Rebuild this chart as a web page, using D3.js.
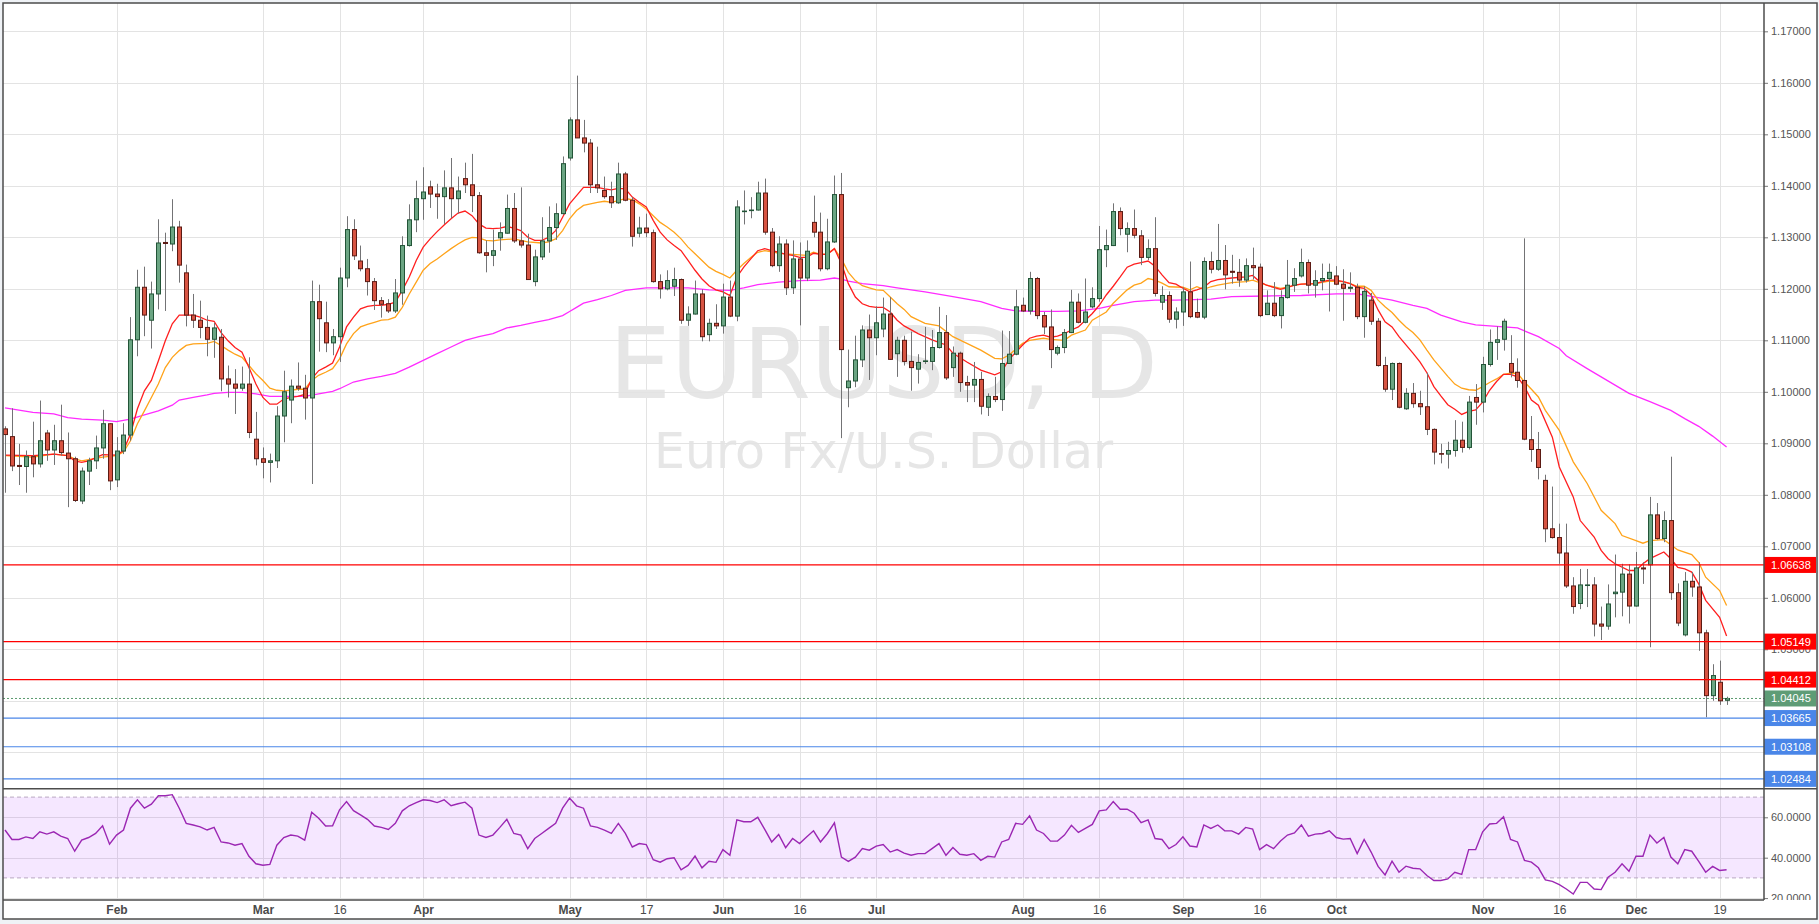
<!DOCTYPE html>
<html><head><meta charset="utf-8">
<script src="https://cdn.jsdelivr.net/npm/d3@7"></script>
<style>
html,body{margin:0;padding:0;background:#eff2f6;overflow:hidden;}
svg{display:block;font-family:"Liberation Sans",Arial,sans-serif;}
</style></head>
<body><svg id="chart" width="1819" height="924"></svg>
<script>
// ---------- DATA (EUR/USD daily) ----------
const firstDay = "2016-01-08", lastDay = "2016-12-20";

const open = [1.0928,1.0913,1.0857,1.0855,1.0874,1.0860,1.0920,1.0887,1.0905,1.0881,
1.0870,1.0788,1.0846,1.0866,1.0891,1.0938,1.0829,1.0885,1.0916,1.1101,
1.1203,1.1139,1.1190,1.1290,1.1287,1.1320,1.1231,1.1149,1.1139,1.1125,
1.1102,1.1106,1.1025,1.1015,1.1007,1.1015,1.0908,1.0870,1.0863,1.0866,
1.0953,1.0984,1.1011,1.1007,1.0988,1.1175,1.1134,1.1095,1.1107,1.1221,
1.1315,1.1254,1.1239,1.1214,1.1177,1.1171,1.1157,1.1192,1.1284,1.1334,
1.1375,1.1398,1.1384,1.1379,1.1396,1.1375,1.1414,1.1402,1.1381,1.1270,
1.1265,1.1299,1.1308,1.1356,1.1293,1.1285,1.1214,1.1262,1.1293,1.1319,
1.1346,1.1454,1.1528,1.1493,1.1483,1.1402,1.1391,1.1379,1.1367,1.1423,
1.1372,1.1308,1.1318,1.1309,1.1214,1.1200,1.1205,1.1218,1.1139,1.1151,
1.1190,1.1111,1.1133,1.1128,1.1184,1.1147,1.1350,1.1352,1.1353,1.1386,
1.1310,1.1245,1.1287,1.1202,1.1258,1.1221,1.1329,1.1310,1.1239,1.1291,
1.1383,1.1008,1.1021,1.1062,1.1120,1.1105,1.1122,1.1151,1.1074,1.1100,
1.1059,1.1044,1.1059,1.1059,1.1086,1.1115,1.1047,1.1075,1.1018,1.1013,
1.1024,1.0970,1.0991,1.0985,1.1055,1.1073,1.1168,1.1157,1.1220,1.1148,
1.1126,1.1075,1.1086,1.1115,1.1174,1.1135,1.1165,1.1181,1.1276,1.1284,
1.1350,1.1306,1.1317,1.1303,1.1261,1.1278,1.1174,1.1187,1.1141,1.1155,
1.1194,1.1154,1.1145,1.1253,1.1238,1.1255,1.1234,1.1232,1.1217,1.1245,
1.1242,1.1150,1.1172,1.1148,1.1183,1.1207,1.1225,1.1251,1.1207,1.1216,
1.1220,1.1225,1.1209,1.1201,1.1203,1.1146,1.1178,1.1137,1.1051,1.1005,
1.1055,1.0967,1.0997,1.0977,1.0971,1.0927,1.0880,1.0879,1.0886,1.0906,
1.0892,1.0989,1.0980,1.1053,1.1096,1.1102,1.1055,1.1038,1.1022,1.0907,
1.0888,1.0828,1.0734,1.0717,1.0687,1.0623,1.0589,1.0624,1.0625,1.0549,
1.0545,1.0608,1.0611,1.0646,1.0584,1.0658,1.0664,1.0761,1.0715,1.0750,
1.0610,1.0528,1.0632,1.0621,1.0532,1.0410,1.0436,1.0401];

const high = [1.0933,1.0968,1.0899,1.0886,1.0942,1.0983,1.0926,1.0936,1.0975,1.0921,
1.0874,1.0853,1.0872,1.0915,1.0965,1.0939,1.0912,1.0939,1.1145,1.1237,
1.1243,1.1214,1.1335,1.1309,1.1374,1.1332,1.1247,1.1190,1.1177,1.1148,
1.1134,1.1122,1.1051,1.1044,1.1049,1.1067,1.0961,1.0892,1.0880,1.0972,
1.1041,1.1024,1.1057,1.1033,1.1216,1.1208,1.1175,1.1122,1.1241,1.1341,
1.1335,1.1284,1.1258,1.1221,1.1184,1.1180,1.1219,1.1302,1.1364,1.1410,
1.1436,1.1410,1.1404,1.1430,1.1454,1.1418,1.1445,1.1462,1.1388,1.1294,
1.1315,1.1329,1.1383,1.1386,1.1397,1.1307,1.1276,1.1339,1.1360,1.1366,
1.1457,1.1533,1.1614,1.1528,1.1491,1.1476,1.1418,1.1408,1.1445,1.1427,
1.1378,1.1340,1.1346,1.1315,1.1228,1.1236,1.1241,1.1220,1.1166,1.1216,
1.1199,1.1142,1.1170,1.1210,1.1216,1.1372,1.1391,1.1378,1.1408,1.1414,
1.1318,1.1302,1.1296,1.1294,1.1290,1.1294,1.1381,1.1348,1.1336,1.1420,
1.1425,1.1082,1.1109,1.1129,1.1150,1.1166,1.1183,1.1184,1.1107,1.1109,
1.1117,1.1073,1.1126,1.1120,1.1165,1.1149,1.1088,1.1078,1.1031,1.1058,
1.1039,1.0997,1.1029,1.1119,1.1118,1.1198,1.1183,1.1233,1.1223,1.1155,
1.1160,1.1090,1.1122,1.1198,1.1191,1.1220,1.1203,1.1322,1.1315,1.1366,
1.1358,1.1329,1.1354,1.1314,1.1296,1.1339,1.1205,1.1195,1.1164,1.1203,
1.1253,1.1181,1.1261,1.1272,1.1326,1.1285,1.1266,1.1258,1.1259,1.1280,
1.1249,1.1197,1.1213,1.1197,1.1256,1.1240,1.1278,1.1257,1.1236,1.1249,
1.1249,1.1244,1.1238,1.1232,1.1210,1.1205,1.1192,1.1143,1.1068,1.1057,
1.1057,1.1007,1.1017,1.1002,1.1037,1.0929,1.0899,1.0903,1.0945,1.0942,
1.0992,1.1015,1.1068,1.1121,1.1127,1.1142,1.1110,1.1065,1.1298,1.0953,
1.0922,1.0839,1.0816,1.0744,1.0744,1.0640,1.0656,1.0656,1.0640,1.0583,
1.0626,1.0684,1.0666,1.0665,1.0689,1.0669,1.0796,1.0784,1.0768,1.0874,
1.0628,1.0650,1.0650,1.0669,1.0538,1.0471,1.0478,1.0408];

const low = [1.0804,1.0846,1.0819,1.0804,1.0834,1.0853,1.0866,1.0858,1.0876,1.0776,
1.0786,1.0782,1.0819,1.0850,1.0870,1.0809,1.0815,1.0879,1.0905,1.1069,
1.1108,1.1084,1.1160,1.1157,1.1273,1.1212,1.1127,1.1124,1.1104,1.1069,
1.1066,1.1001,1.0989,1.0957,1.1002,1.0910,1.0857,1.0832,1.0824,1.0852,
1.0902,1.0939,1.1002,1.0946,1.0821,1.1078,1.1077,1.1071,1.1058,1.1203,
1.1256,1.1234,1.1187,1.1159,1.1144,1.1153,1.1153,1.1169,1.1282,1.1310,
1.1334,1.1357,1.1336,1.1326,1.1337,1.1346,1.1386,1.1349,1.1268,1.1232,
1.1244,1.1274,1.1307,1.1289,1.1280,1.1218,1.1205,1.1256,1.1270,1.1295,
1.1344,1.1449,1.1493,1.1465,1.1386,1.1386,1.1375,1.1357,1.1365,1.1370,
1.1282,1.1300,1.1300,1.1212,1.1181,1.1197,1.1186,1.1132,1.1128,1.1150,
1.1098,1.1098,1.1122,1.1113,1.1145,1.1137,1.1325,1.1337,1.1352,1.1305,
1.1242,1.1233,1.1188,1.1190,1.1129,1.1215,1.1300,1.1234,1.1236,1.1289,
1.0910,1.0970,1.1009,1.1048,1.1023,1.1071,1.1106,1.1062,1.1029,1.1051,
1.1002,1.1016,1.1054,1.1042,1.1084,1.1023,1.1029,1.1000,1.0980,1.0980,
1.0956,1.0953,1.0980,1.0963,1.1054,1.1071,1.1155,1.1150,1.1141,1.1112,
1.1046,1.1071,1.1075,1.1114,1.1133,1.1133,1.1162,1.1175,1.1242,1.1283,
1.1304,1.1271,1.1298,1.1246,1.1256,1.1185,1.1159,1.1134,1.1123,1.1128,
1.1143,1.1143,1.1141,1.1230,1.1235,1.1199,1.1210,1.1204,1.1212,1.1218,
1.1145,1.1149,1.1145,1.1123,1.1181,1.1194,1.1222,1.1191,1.1183,1.1197,
1.1156,1.1207,1.1138,1.1194,1.1141,1.1105,1.1130,1.1049,1.1000,1.0984,
1.0968,1.0965,1.0969,1.0955,1.0916,1.0859,1.0861,1.0851,1.0874,1.0882,
1.0888,1.0936,1.0960,1.1049,1.1062,1.1080,1.1028,1.1008,1.0906,1.0864,
1.0830,1.0708,1.0715,1.0666,1.0619,1.0569,1.0578,1.0582,1.0525,1.0518,
1.0538,1.0562,1.0564,1.0550,1.0583,1.0627,1.0504,1.0713,1.0708,1.0596,
1.0545,1.0525,1.0602,1.0497,1.0368,1.0400,1.0392,1.0392];

const close = [1.0917,1.0856,1.0855,1.0874,1.0860,1.0905,1.0887,1.0905,1.0882,1.0870,
1.0789,1.0846,1.0866,1.0891,1.0938,1.0827,1.0885,1.0916,1.1101,1.1203,
1.1149,1.1190,1.1289,1.1288,1.1320,1.1246,1.1149,1.1139,1.1125,1.1102,
1.1124,1.1025,1.1015,1.1007,1.1015,1.0921,1.0870,1.0863,1.0866,1.0953,
1.1000,1.1011,1.1007,1.0988,1.1175,1.1142,1.1095,1.1107,1.1221,1.1315,
1.1264,1.1239,1.1214,1.1177,1.1170,1.1157,1.1192,1.1284,1.1334,1.1375,
1.1388,1.1384,1.1379,1.1396,1.1375,1.1390,1.1402,1.1381,1.1270,1.1265,
1.1274,1.1309,1.1356,1.1293,1.1285,1.1218,1.1262,1.1293,1.1319,1.1346,
1.1443,1.1528,1.1493,1.1483,1.1402,1.1396,1.1379,1.1367,1.1423,1.1372,
1.1302,1.1318,1.1309,1.1214,1.1200,1.1216,1.1218,1.1139,1.1151,1.1190,
1.1107,1.1133,1.1128,1.1184,1.1147,1.1359,1.1351,1.1353,1.1386,1.1310,
1.1245,1.1287,1.1202,1.1258,1.1221,1.1273,1.1310,1.1239,1.1291,1.1383,
1.1082,1.1021,1.1062,1.1120,1.1105,1.1134,1.1151,1.1063,1.1100,1.1059,
1.1047,1.1057,1.1060,1.1086,1.1115,1.1027,1.1075,1.1018,1.1013,1.1024,
1.0972,1.0991,1.0985,1.1055,1.1073,1.1165,1.1157,1.1220,1.1148,1.1126,
1.1082,1.1086,1.1115,1.1174,1.1135,1.1155,1.1181,1.1276,1.1284,1.1350,
1.1317,1.1317,1.1304,1.1261,1.1278,1.1191,1.1187,1.1141,1.1155,1.1194,
1.1146,1.1145,1.1253,1.1238,1.1255,1.1227,1.1232,1.1217,1.1245,1.1241,
1.1148,1.1172,1.1148,1.1183,1.1207,1.1220,1.1251,1.1207,1.1216,1.1220,
1.1232,1.1209,1.1201,1.1203,1.1146,1.1195,1.1137,1.1051,1.1005,1.1055,
1.0970,1.0997,1.0977,1.0971,1.0927,1.0883,1.0879,1.0886,1.0906,1.0892,
1.0980,1.0980,1.1053,1.1096,1.1101,1.1137,1.1038,1.1022,1.0908,1.0888,
1.0853,1.0734,1.0717,1.0687,1.0623,1.0583,1.0625,1.0625,1.0549,1.0545,
1.0588,1.0611,1.0646,1.0584,1.0658,1.0656,1.0761,1.0715,1.0750,1.0610,
1.0551,1.0632,1.0621,1.0532,1.0410,1.0449,1.0400,1.04045];

// moving averages: [bar index, value]
const maFast = [[0,1.0877],[4,1.0876],[7,1.0879],[9,1.0876],[10,1.0866],[11,1.0863],[12,1.0866],[14,1.0878],[16,1.0877],[17,1.0886],[18,1.0918],[19,1.0967],[20,1.1002],[21,1.1022],[22,1.1060],[23,1.1099],[24,1.1132],[25,1.1149],[27,1.1149],[28,1.1145],[29,1.1139],[30,1.1137],[31,1.1115],[32,1.1099],[33,1.1086],[34,1.1077],[35,1.1047],[36,1.1015],[37,1.0989],[38,1.0976],[39,1.0976],[40,1.0986],[41,1.0989],[42,1.0991],[43,1.0995],[44,1.1025],[45,1.1041],[46,1.1048],[47,1.1056],[48,1.1087],[49,1.1126],[50,1.1145],[51,1.1161],[52,1.1166],[53,1.1168],[54,1.1168],[55,1.1170],[56,1.1174],[57,1.1197],[58,1.1223],[59,1.1255],[60,1.1281],[61,1.1297],[62,1.1311],[63,1.1324],[64,1.1336],[65,1.1347],[66,1.1351],[67,1.1342],[68,1.1326],[69,1.1318],[70,1.1317],[71,1.1318],[72,1.1321],[73,1.1318],[74,1.1313],[75,1.1300],[76,1.1294],[77,1.1294],[78,1.1300],[79,1.1313],[80,1.1339],[81,1.1365],[82,1.1381],[83,1.1397],[84,1.1397],[85,1.1397],[86,1.1394],[87,1.1392],[88,1.1395],[89,1.1394],[90,1.1378],[91,1.1368],[92,1.1359],[93,1.1333],[94,1.1310],[95,1.1295],[96,1.1284],[97,1.1274],[98,1.1255],[99,1.1236],[100,1.1219],[101,1.1206],[102,1.1198],[103,1.1194],[104,1.1187],[105,1.1223],[106,1.1242],[107,1.1258],[108,1.1274],[109,1.1278],[110,1.1274],[111,1.1271],[112,1.1267],[113,1.1265],[114,1.1261],[115,1.1261],[116,1.1269],[117,1.1267],[118,1.1267],[119,1.1278],[120,1.1249],[121,1.1210],[122,1.1184],[123,1.1171],[124,1.1166],[125,1.1164],[126,1.1164],[127,1.1155],[128,1.1139],[129,1.1128],[131,1.1113],[133,1.1101],[135,1.1091],[136,1.1075],[138,1.1058],[140,1.1042],[142,1.1033],[143,1.1039],[144,1.1062],[146,1.1091],[147,1.1104],[148,1.1108],[149,1.1110],[150,1.1106],[151,1.1108],[152,1.1113],[153,1.1120],[154,1.1126],[155,1.1139],[156,1.1152],[157,1.1168],[158,1.1188],[159,1.1205],[160,1.1223],[161,1.1242],[162,1.1248],[163,1.1251],[164,1.1254],[165,1.1244],[166,1.1227],[167,1.1212],[168,1.1209],[169,1.1201],[170,1.1194],[171,1.1198],[172,1.1203],[173,1.1214],[174,1.1218],[176,1.1221],[178,1.1223],[179,1.1226],[180,1.1214],[181,1.1207],[182,1.1203],[183,1.1199],[184,1.1203],[185,1.1207],[186,1.1209],[188,1.1210],[189,1.1214],[190,1.1217],[191,1.1217],[192,1.1214],[193,1.1210],[194,1.1203],[195,1.1201],[196,1.1188],[197,1.1159],[198,1.1136],[199,1.1126],[200,1.1107],[201,1.1091],[202,1.1075],[203,1.1058],[204,1.1037],[205,1.1010],[206,1.0992],[207,1.0975],[208,1.0966],[209,1.0956],[210,1.0962],[211,1.0965],[212,1.0980],[213,1.1003],[214,1.1020],[215,1.1034],[216,1.1034],[217,1.1029],[218,1.1010],[219,1.0984],[220,1.0974],[222,1.0912],[223,1.0854],[225,1.0796],[226,1.0750],[228,1.0718],[229,1.0692],[230,1.0676],[231,1.0666],[233,1.0653],[234,1.0653],[235,1.0666],[236,1.0676],[238,1.0689],[239,1.0676],[240,1.0659],[241,1.0656],[242,1.0650],[243,1.0627],[244,1.0595],[246,1.0562],[247,1.0526]];

const maSlow = [[0,1.0876],[4,1.0873],[7,1.0879],[9,1.0876],[10,1.0870],[11,1.0866],[14,1.0873],[16,1.0876],[17,1.0883],[18,1.0905],[19,1.0938],[20,1.0963],[21,1.0989],[22,1.1015],[23,1.1047],[24,1.1067],[25,1.1080],[26,1.1090],[27,1.1093],[29,1.1094],[30,1.1098],[31,1.1090],[32,1.1081],[33,1.1073],[34,1.1067],[35,1.1051],[36,1.1035],[37,1.1022],[38,1.1007],[39,1.1003],[40,1.1002],[41,1.1003],[42,1.1005],[43,1.1005],[44,1.1022],[45,1.1032],[46,1.1038],[47,1.1045],[48,1.1064],[49,1.1093],[50,1.1113],[51,1.1126],[52,1.1131],[53,1.1135],[54,1.1139],[55,1.1140],[56,1.1145],[57,1.1164],[58,1.1190],[59,1.1213],[60,1.1236],[61,1.1249],[62,1.1258],[63,1.1268],[64,1.1278],[65,1.1287],[66,1.1295],[67,1.1300],[68,1.1299],[69,1.1294],[70,1.1293],[71,1.1295],[73,1.1297],[74,1.1294],[75,1.1291],[77,1.1289],[78,1.1291],[79,1.1297],[80,1.1313],[81,1.1336],[82,1.1352],[83,1.1362],[84,1.1365],[85,1.1368],[86,1.1370],[87,1.1368],[89,1.1375],[90,1.1373],[91,1.1365],[92,1.1355],[93,1.1342],[94,1.1329],[95,1.1320],[96,1.1310],[97,1.1297],[98,1.1281],[99,1.1268],[100,1.1255],[101,1.1242],[102,1.1234],[103,1.1228],[104,1.1221],[105,1.1236],[106,1.1249],[107,1.1261],[108,1.1271],[109,1.1274],[110,1.1272],[111,1.1269],[113,1.1267],[115,1.1265],[116,1.1271],[117,1.1267],[118,1.1268],[119,1.1278],[120,1.1258],[121,1.1232],[122,1.1216],[123,1.1206],[124,1.1202],[125,1.1198],[126,1.1197],[127,1.1184],[128,1.1171],[129,1.1160],[130,1.1146],[132,1.1133],[134,1.1128],[136,1.1107],[138,1.1094],[140,1.1081],[142,1.1065],[143,1.1064],[144,1.1071],[146,1.1094],[147,1.1100],[149,1.1104],[150,1.1102],[152,1.1100],[153,1.1110],[155,1.1120],[156,1.1139],[158,1.1155],[159,1.1172],[161,1.1198],[162,1.1207],[163,1.1211],[164,1.1220],[165,1.1217],[166,1.1211],[167,1.1204],[169,1.1203],[170,1.1198],[171,1.1204],[172,1.1199],[173,1.1204],[174,1.1207],[176,1.1212],[178,1.1214],[179,1.1217],[180,1.1212],[181,1.1207],[182,1.1204],[183,1.1201],[184,1.1203],[185,1.1207],[186,1.1209],[188,1.1210],[190,1.1215],[192,1.1214],[193,1.1210],[194,1.1205],[195,1.1205],[196,1.1197],[197,1.1178],[198,1.1165],[199,1.1154],[200,1.1139],[201,1.1126],[202,1.1115],[203,1.1101],[204,1.1081],[205,1.1062],[206,1.1046],[207,1.1030],[208,1.1015],[209,1.1007],[210,1.1004],[211,1.1003],[212,1.1010],[213,1.1018],[214,1.1025],[215,1.1034],[216,1.1036],[217,1.1036],[218,1.1019],[219,1.1005],[220,1.0990],[221,1.0964],[223,1.0925],[225,1.0864],[227,1.0822],[229,1.0770],[231,1.0744],[232,1.0721],[234,1.0711],[235,1.0706],[236,1.0711],[238,1.0713],[240,1.0693],[242,1.0684],[243,1.0669],[244,1.0640],[246,1.0614],[247,1.0585]];

const ma100 = [[0,1.0969],[4,1.0960],[7,1.0957],[9,1.0950],[11,1.0947],[14,1.0945],[16,1.0942],[18,1.0947],[20,1.0955],[22,1.0963],[24,1.0974],[25,1.0984],[27,1.0989],[29,1.0994],[30,1.0997],[32,1.0999],[34,1.0999],[36,1.0996],[38,1.0991],[41,1.0991],[43,1.0991],[45,1.0996],[47,1.1001],[48,1.1006],[50,1.1019],[52,1.1025],[54,1.1030],[56,1.1036],[58,1.1048],[60,1.1061],[62,1.1074],[64,1.1087],[66,1.1100],[68,1.1107],[70,1.1113],[72,1.1124],[74,1.1129],[76,1.1135],[78,1.1140],[80,1.1148],[81,1.1156],[82,1.1164],[83,1.1172],[85,1.1179],[87,1.1187],[89,1.1197],[92,1.1202],[95,1.1202],[98,1.1202],[101,1.1198],[104,1.1197],[106,1.1202],[108,1.1208],[111,1.1213],[114,1.1216],[117,1.1217],[119,1.1221],[120,1.1219],[121,1.1215],[123,1.1210],[126,1.1206],[128,1.1202],[132,1.1194],[136,1.1185],[140,1.1175],[143,1.1162],[145,1.1157],[148,1.1156],[151,1.1156],[154,1.1157],[157,1.1162],[159,1.1168],[162,1.1175],[165,1.1178],[168,1.1178],[173,1.1180],[176,1.1185],[181,1.1186],[186,1.1187],[191,1.1190],[194,1.1190],[195,1.1188],[197,1.1183],[199,1.1178],[202,1.1168],[204,1.1162],[206,1.1149],[209,1.1136],[211,1.1130],[213,1.1128],[215,1.1126],[217,1.1124],[220,1.1107],[223,1.1084],[224,1.1070],[227,1.1045],[231,1.1013],[233,1.0997],[236,1.0981],[239,1.0964],[241,1.0948],[243,1.0933],[245,1.0914],[247,1.0893]];

const rsi = [53.7,49,49,50.3,49.5,52.8,51.7,52.8,50.7,49.5,
43.2,48.7,50,52,55.8,46.7,51.2,53.7,64.5,68.7,
64.5,66.5,70.7,70.7,71.2,64.5,57,56.2,55.3,53.7,
55,47.8,47.3,46.2,47,40.7,37,36.3,36.7,46.2,
50,51.2,50.7,48.7,62.5,59.5,55.7,55.8,63.7,67.8,
63.3,61.2,59,55.7,55,54,57,63.2,65.7,67.3,
68.7,68.3,67.3,68.7,65.7,66.7,67.5,64.5,51.2,50,
51.2,55,59,52,51.2,44.5,49.5,52,54.5,57,
64.5,69.5,65.7,64.5,55.7,55,53.7,52,57,52,
45.3,47,46.5,39,37.8,39.5,40,34,36.2,40.8,
35,38.2,37.7,44,41.2,58.7,57.8,57.8,60,54,
47.8,51.5,45,49.5,47,50.3,53.3,47.8,52,57.3,
40.3,38.2,40.3,44.5,43.7,45.7,46.5,42.8,44,42.3,
41.2,42,42,44.5,47,41.2,45,41.7,41.2,42,
38.7,40.7,40.3,47.8,49,57,56.5,60.7,53.7,52,
48.2,48.2,51.2,56,52.5,54.5,56.5,63.2,63.7,67.8,
64,64,62,57.3,58.7,49.5,49,44.5,46.5,50.3,
45.8,45.3,56.2,54.5,56.2,53.3,53.3,51.7,55,54.2,
44,46.5,44.5,48.3,51.2,52.3,56.2,50.7,51.7,52,
53.3,50,49.2,49.5,42,49,42.8,35.7,31.5,38.3,
32.8,35.8,34.8,34.5,31.2,28.7,28.7,29.5,32.8,31.7,
44,44,52.8,56.7,57,60.3,49,47.8,38.7,37.8,
35,29,28.3,26.7,24.5,22,27.8,27.8,24.5,24.2,
30.3,32.8,37,33.3,40.7,40.7,51.2,47.3,50,40.3,
37,44,43.2,38.2,32.8,35.7,33.7,34];

const priceGrid = [1.17,1.16,1.15,1.14,1.13,1.12,1.11,1.10,1.09,1.08,1.07,1.06,1.05,1.04,1.03];
const priceLabels = [1.17,1.16,1.15,1.14,1.13,1.12,1.11,1.10,1.09,1.08,1.07,1.06,1.05];
const rsiTicks = [60,40,20];
const rsiBand = [30,70];
const timeTickDates = ["2016-02-01","2016-03-01","2016-03-16","2016-04-01","2016-05-02","2016-05-17","2016-06-01","2016-06-16","2016-07-01","2016-08-01","2016-08-16","2016-09-01","2016-09-16","2016-10-03","2016-11-01","2016-11-16","2016-12-01","2016-12-19"];
const timeTickLabels = ["Feb","Mar","16","Apr","May","17","Jun","16","Jul","Aug","16","Sep","16","Oct","Nov","16","Dec","19"];
const resistance = [1.06638,1.05149,1.04412];
const support = [1.03665,1.03108,1.02484];
const lastPrice = 1.04045;
const symbol = "EURUSD, D";
const description = "Euro Fx/U.S. Dollar";

// ---------- LAYOUT ----------
const L = 3, R = 1764, T = 3, PB = 788.7, RB = 900, OUTR = 1817, OUTB = 919;
const svg = d3.select("#chart");
const fmtDay = d3.timeFormat("%Y-%m-%d"), parseDay = d3.timeParse("%Y-%m-%d");
const dates = d3.timeDay.range(parseDay(firstDay), d3.timeDay.offset(parseDay(lastDay), 1))
  .filter(d => d.getDay() !== 0 && d.getDay() !== 6).map(fmtDay);

const bars = dates.map((d, i) => ({d, o: open[i], h: high[i], l: low[i], c: close[i]}));

const x = d3.scalePoint().domain(dates).range([5, 5 + 6.97 * (dates.length - 1)]);
const y = d3.scaleLinear().domain([1.02293, 1.17550]).range([PB, T]);
const yr = d3.scaleLinear().domain([19.06, 74.16]).range([RB, PB]);

const defs = svg.append("defs");
defs.append("clipPath").attr("id","cpPrice").append("rect").attr("x",L).attr("y",T).attr("width",R-L).attr("height",PB-T);
defs.append("clipPath").attr("id","cpRsi").append("rect").attr("x",L).attr("y",PB).attr("width",R-L).attr("height",RB-PB);
defs.append("clipPath").attr("id","cpRsiAxis").append("rect").attr("x",R).attr("y",PB+1).attr("width",OUTR-R).attr("height",RB-PB-1);

// frame background
svg.append("rect").attr("x",L).attr("y",T).attr("width",OUTR-L).attr("height",OUTB-T).attr("fill","#ffffff");

const gridColor = "#e3e3e3";
// vertical grid
svg.append("g").selectAll("line").data(timeTickDates).join("line")
  .attr("x1", d => Math.round(x(d)) + 0.5).attr("x2", d => Math.round(x(d)) + 0.5)
  .attr("y1", T).attr("y2", RB).attr("stroke", gridColor).attr("stroke-width", 1);

// watermark
const wm = svg.append("g").attr("clip-path","url(#cpPrice)");
wm.append("text").attr("x",(L+R)/2).attr("y",398).attr("text-anchor","middle")
  .attr("font-family","'DejaVu Sans',Verdana,sans-serif").attr("font-size",98)
  .attr("fill","#e6e6e6").text(symbol);
wm.append("text").attr("x",(L+R)/2).attr("y",468).attr("text-anchor","middle")
  .attr("font-family","'DejaVu Sans',Verdana,sans-serif").attr("font-size",49)
  .attr("fill","#e6e6e6").text(description);

// horizontal price grid
svg.append("g").attr("clip-path","url(#cpPrice)").selectAll("line").data(priceGrid).join("line")
  .attr("x1",L).attr("x2",R).attr("y1",d => Math.round(y(d))+0.5).attr("y2",d => Math.round(y(d))+0.5)
  .attr("stroke",gridColor);

// price pane content
const pane = svg.append("g").attr("clip-path","url(#cpPrice)");
const maLine = d3.line().x(p => x(dates[p[0]])).y(p => y(p[1]));
pane.append("path").datum(ma100).attr("d",maLine).attr("fill","none").attr("stroke","#ff2bff").attr("stroke-width",1.3);
pane.append("path").datum(maSlow).attr("d",maLine).attr("fill","none").attr("stroke","#ffa31a").attr("stroke-width",1.3);
pane.append("path").datum(maFast).attr("d",maLine).attr("fill","none").attr("stroke","#ff1f1f").attr("stroke-width",1.3);

// candles
const cg = pane.append("g");
cg.selectAll("line.wick").data(bars).join("line").attr("class","wick")
  .attr("x1", b => Math.round(x(b.d)) + 0.5).attr("x2", b => Math.round(x(b.d)) + 0.5)
  .attr("y1", b => y(b.h)).attr("y2", b => y(b.l))
  .attr("stroke", "#737375").attr("stroke-width", 1);
cg.selectAll("rect.body").data(bars).join("rect").attr("class","body")
  .attr("x", b => Math.round(x(b.d)) - 1.5)
  .attr("width", 4)
  .attr("y", b => Math.min(y(b.o), y(b.c)))
  .attr("height", b => Math.max(0.6, Math.abs(y(b.o) - y(b.c))))
  .attr("fill", b => b.c >= b.o ? "#6ba583" : "#d75442")
  .attr("stroke", b => b.c >= b.o ? "#225437" : "#5b1a13")
  .attr("stroke-width", 1);

// horizontal levels
const lv = svg.append("g").attr("clip-path","url(#cpPrice)");
lv.selectAll("line.res").data(resistance).join("line")
  .attr("x1",L).attr("x2",R).attr("y1",d=>y(d)).attr("y2",d=>y(d)).attr("stroke","#ff0000").attr("stroke-width",1.2);
lv.selectAll("line.sup").data(support).join("line")
  .attr("x1",L).attr("x2",R).attr("y1",d=>y(d)).attr("y2",d=>y(d)).attr("stroke","#4a86e8").attr("stroke-width",1.2);
lv.append("line").attr("x1",L).attr("x2",R).attr("y1",y(lastPrice)).attr("y2",y(lastPrice))
  .attr("stroke","#5a9a6e").attr("stroke-width",1).attr("stroke-dasharray","2,2");

// RSI pane
const rp = svg.append("g").attr("clip-path","url(#cpRsi)");
rp.selectAll("line.rg").data(rsiTicks).join("line")
  .attr("x1",L).attr("x2",R).attr("y1",d=>Math.round(yr(d))+0.5).attr("y2",d=>Math.round(yr(d))+0.5).attr("stroke",gridColor);
rp.append("rect").attr("x",L).attr("width",R-L).attr("y",yr(rsiBand[1])).attr("height",yr(rsiBand[0])-yr(rsiBand[1]))
  .attr("fill","rgba(153,21,255,0.1)");
rp.selectAll("line.band").data(rsiBand).join("line")
  .attr("x1",L).attr("x2",R).attr("y1",d=>yr(d)).attr("y2",d=>yr(d))
  .attr("stroke","#b9a8c2").attr("stroke-width",1).attr("stroke-dasharray","4,3");
rp.append("path").datum(rsi).attr("d", d3.line().x((v,i)=>x(dates[i])).y(v=>yr(v)))
  .attr("fill","none").attr("stroke","#9b27b3").attr("stroke-width",1.4);

// axes
const textColor = "#555";
const ya = svg.append("g").attr("transform",`translate(${R},0)`)
  .call(d3.axisRight(y).tickValues(priceLabels).tickFormat(d3.format(".5f")).tickSize(4).tickPadding(3));
ya.select(".domain").remove();
ya.selectAll("line").attr("stroke","#777");
ya.selectAll("text").attr("fill",textColor).attr("font-size",11).attr("font-family","'Liberation Sans',Arial,sans-serif");

const yra = svg.append("g").attr("clip-path","url(#cpRsiAxis)").append("g").attr("transform",`translate(${R},0)`)
  .call(d3.axisRight(yr).tickValues(rsiTicks).tickFormat(d3.format(".4f")).tickSize(4).tickPadding(3));
yra.select(".domain").remove();
yra.selectAll("line").attr("stroke","#777");
yra.selectAll("text").attr("fill",textColor).attr("font-size",11).attr("font-family","'Liberation Sans',Arial,sans-serif");

const xa = svg.append("g").attr("transform",`translate(0,${RB})`)
  .call(d3.axisBottom(x).tickValues(timeTickDates).tickFormat((d,i)=>timeTickLabels[i]).tickSize(0).tickPadding(5));
xa.select(".domain").remove();
xa.selectAll("text").attr("fill","#4a4a4a").attr("font-size",12)
  .attr("font-family","'Liberation Sans',Arial,sans-serif")
  .attr("font-weight",(d,i)=>/^\d+$/.test(timeTickLabels[i]) ? "normal" : "bold");

// price labels on axis
function tag(v, fill){
  const g = svg.append("g");
  g.append("rect").attr("x",R).attr("y",y(v)-8).attr("width",52).attr("height",16).attr("fill",fill);
  g.append("text").attr("x",R+7).attr("y",y(v)+4).attr("fill","#fff").attr("font-size",11)
    .attr("font-family","'Liberation Sans',Arial,sans-serif").text(d3.format(".5f")(v));
}
resistance.forEach(v => tag(v, "#ff0000"));
tag(lastPrice, "#5e9c76");
support.forEach(v => tag(v, "#4a86e8"));

// separators & frame
const sep = "#4c4c4c";
svg.append("rect").attr("x",L).attr("y",T).attr("width",OUTR-L).attr("height",OUTB-T)
  .attr("fill","none").attr("stroke",sep).attr("stroke-width",1.5);
svg.append("line").attr("x1",R).attr("x2",R).attr("y1",T).attr("y2",RB).attr("stroke",sep).attr("stroke-width",1.5);
svg.append("line").attr("x1",L).attr("x2",OUTR).attr("y1",PB).attr("y2",PB).attr("stroke",sep).attr("stroke-width",1.5);
svg.append("line").attr("x1",L).attr("x2",R).attr("y1",RB).attr("y2",RB).attr("stroke",sep).attr("stroke-width",1.5);
</script>
</body></html>
